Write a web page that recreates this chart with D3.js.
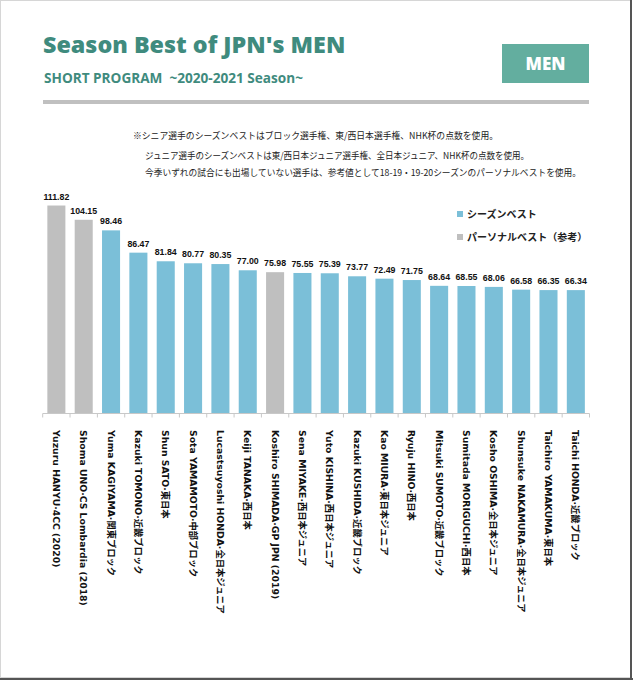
<!DOCTYPE html>
<html><head><meta charset="utf-8">
<script src="https://cdn.jsdelivr.net/npm/d3@7"></script>
<style>html,body{margin:0;padding:0;background:#fff;}svg{display:block;}</style>
</head><body>
<script>
const names = ["Yuzuru HANYU·4CC (2020)","Shoma UNO·CS Lombardia (2018)","Yuma KAGIYAMA·関東ブロック","Kazuki TOMONO·近畿ブロック","Shun SATO·東日本","Sota YAMAMOTO·中部ブロック","Lucastsuyoshi HONDA·全日本ジュニア","Keiji TANAKA·西日本","Koshiro SHIMADA·GP JPN (2019)","Sena MIYAKE·西日本ジュニア","Yuto KISHINA·西日本ジュニア","Kazuki KUSHIDA·近畿ブロック","Kao MIURA·東日本ジュニア","Ryuju HINO·西日本","Mitsuki SUMOTO·近畿ブロック","Sumitada MORIGUCHI·西日本","Kosho OSHIMA·全日本ジュニア","Shunsuke NAKAMURA·全日本ジュニア","Taichiro YAMAKUMA·東日本","Taichi HONDA·近畿ブロック"];
const scores = [111.82,104.15,98.46,86.47,81.84,80.77,80.35,77.00,75.98,75.55,75.39,73.77,72.49,71.75,68.64,68.55,68.06,66.58,66.35,66.34];
const types = ["pb","pb","sb","sb","sb","sb","sb","sb","pb","sb","sb","sb","sb","sb","sb","sb","sb","sb","sb","sb"];
const legendLabels = ["シーズンベスト","パーソナルベスト（参考）"];
const notes = ["※シニア選手のシーズンベストはブロック選手権、東/西日本選手権、NHK杯の点数を使用。","ジュニア選手のシーズンベストは東/西日本ジュニア選手権、全日本ジュニア、NHK杯の点数を使用。","今季いずれの試合にも出場していない選手は、参考値として18-19・19-20シーズンのパーソナルベストを使用。"];
const titleText = "Season Best of JPN's MEN";
const subtitleText = "SHORT PROGRAM  ~2020-2021 Season~";
const badgeText = "MEN";

const W = 633, H = 680;
const teal = "#3f8b7e", badge = "#63ae9f", blue = "#7bbfd8", gray = "#bfbfbf";
const colorOf = t => t === "sb" ? blue : gray;

const svg = d3.select("body").append("svg").attr("width", W).attr("height", H);
svg.append("rect").attr("width", W).attr("height", H).attr("fill", "#fff");
// frame
svg.append("rect").attr("x",0.5).attr("y",0.5).attr("width",630).attr("height",677).attr("fill","none").attr("stroke","#d6d6d6");
svg.append("line").attr("x1",631).attr("x2",631).attr("y1",0).attr("y2",680).attr("stroke","#555").attr("stroke-width",2);
svg.append("line").attr("x1",0).attr("x2",633).attr("y1",679).attr("y2",679).attr("stroke","#555").attr("stroke-width",2);

const sans = "'Open Sans', 'Noto Sans', sans-serif";
svg.append("text").attr("x",43).attr("y",53).text(titleText)
  .attr("font-family",sans).attr("font-weight",800).attr("font-size",23.3).attr("fill",teal);
svg.append("text").attr("x",44).attr("y",83).text(subtitleText).style("white-space","pre")
  .attr("font-family",sans).attr("font-weight","bold").attr("font-size",13.6).attr("fill",teal);
svg.append("rect").attr("x",502).attr("y",44).attr("width",87).attr("height",39).attr("fill",badge);
svg.append("text").attr("x",545.5).attr("y",70).attr("text-anchor","middle").text(badgeText)
  .attr("font-family",sans).attr("font-weight",800).attr("font-size",17).attr("fill","#fff");
svg.append("rect").attr("x",43).attr("y",100).attr("width",546).attr("height",4).attr("fill","#c0c0c0");

const jp = "'Noto Sans CJK JP', sans-serif";
const noteX = [133,145,145], noteY = [139,159,176], noteLen = [365,384,436];
notes.forEach((t,i)=>{
  svg.append("text").attr("x",noteX[i]).attr("y",noteY[i]).text(t)
    .attr("font-family",jp).attr("font-size",9.2).attr("fill","#222")
    .attr("textLength",noteLen[i]).attr("lengthAdjust","spacingAndGlyphs");
});

// chart
const x = d3.scaleBand().domain(names).range([42.7, 589.5]).paddingInner(0.34).paddingOuter(0.17);
const y = d3.scaleLinear().domain([0,120]).range([413.5, 190.3]);

const g = svg.append("g");
g.selectAll("rect.bar").data(names).join("rect").attr("class","bar")
  .attr("x", d => x(d)).attr("width", x.bandwidth())
  .attr("y", (d,i) => y(scores[i])).attr("height", (d,i) => y(0) - y(scores[i]))
  .attr("fill", (d,i) => colorOf(types[i]));

g.selectAll("text.val").data(names).join("text").attr("class","val")
  .attr("x", d => x(d) + x.bandwidth()/2).attr("y", (d,i) => y(scores[i]) - 6)
  .attr("text-anchor","middle").text((d,i) => scores[i].toFixed(2))
  .attr("font-family","'Liberation Sans', Arial, sans-serif").attr("font-weight","bold").attr("font-size",8.8).attr("fill","#111");

// axis
const axisG = svg.append("g").attr("transform", `translate(0,${y(0)})`);
axisG.append("line").attr("x1",42.7).attr("x2",589.5).attr("stroke","#c8c8c8").attr("stroke-width",1);
const tickXs = d3.range(names.length+1).map(i => 42.7 + i*(589.5-42.7)/names.length);
axisG.selectAll("line.tick").data(tickXs).join("line").attr("class","tick")
  .attr("x1", d=>d).attr("x2", d=>d).attr("y1",0).attr("y2",4).attr("stroke","#c8c8c8");

svg.selectAll("text.cat").data(names).join("text").attr("class","cat")
  .attr("transform", d => `translate(${x(d)+x.bandwidth()/2 - 3.5},430) rotate(90)`)
  .text(d => d).style("white-space","pre")
  .attr("font-family","'DejaVu Sans', 'Noto Sans CJK JP', sans-serif").attr("font-weight","bold")
  .attr("font-size",9.3).attr("fill","#111");

// legend
const leg = svg.append("g");
legendLabels.forEach((t,i)=>{
  const ly = 216 + i*23;
  leg.append("rect").attr("x",457).attr("y",ly-5).attr("width",6).attr("height",6).attr("fill", i===0?blue:gray);
  leg.append("text").attr("x",467).attr("y",ly+2).text(t)
    .attr("font-family",jp).attr("font-weight","bold").attr("font-size",10).attr("fill","#222");
});
</script>
</body></html>
